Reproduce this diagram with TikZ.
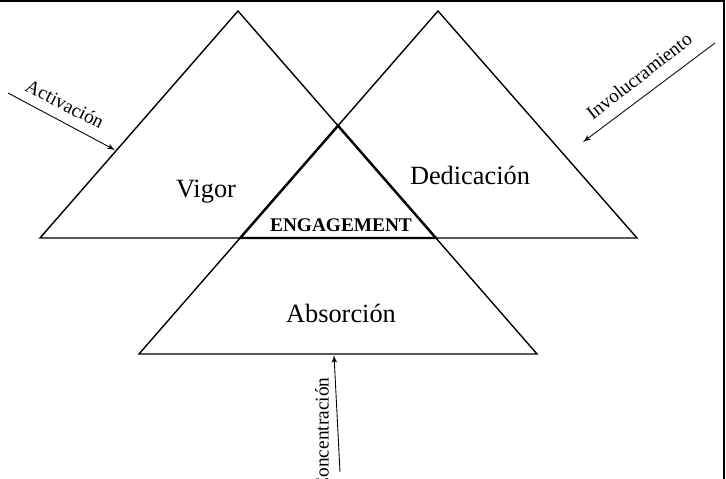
\documentclass[tikz,border=0pt]{standalone}
\usepackage{fontspec}
\setmainfont{Liberation Serif}
\usetikzlibrary{arrows}

\begin{document}
\begin{tikzpicture}[x=0.02cm,y=-0.02cm,>=latex',
    side/.style={line width=0.8pt},
    core/.style={line width=1.4pt},
    cue/.style={->,line width=0.5pt},
    dim/.style={font=\fontsize{15}{18}\selectfont,anchor=base},
    cuelabel/.style={font=\fontsize{11}{13}\selectfont}]
    \useasboundingbox (0,0) rectangle (726,479);
    \draw[line width=1pt] (0,1) -- (724,1) -- (724,479);

    % corners of the three triangles
    \coordinate (VT) at (238,11);
    \coordinate (DT) at (438,11);
    \coordinate (VL) at (40,238);
    \coordinate (DR) at (637,238);
    \coordinate (AL) at (139,354);
    \coordinate (AR) at (537,354);
    \coordinate (EL) at (intersection of DT--AL and VL--DR);
    \coordinate (ER) at (intersection of VT--AR and VL--DR);
    \coordinate (ET) at (intersection of VT--AR and DT--AL);

    \draw[side] (VL) -- (VT) -- (AR) -- (AL) -- (DT) -- (DR) -- cycle;
    \draw[core] (ET) -- (EL) -- (ER) -- cycle;

    \node[dim] (vigor) at (206,198) {Vigor};
    \node[dim] (dedic) at (470,185) {Dedicación};
    \node[dim] (absor) at (341,322) {Absorción};
    \node[font=\fontsize{11}{13}\selectfont\bfseries,anchor=base] (engage) at (341,232) {ENGAGEMENT};

    % arrows from outside
    \coordinate (actS) at (8,93);
    \coordinate (actE) at (115,150);
    \draw[cue] (actS) -- (actE);
    \node[cuelabel,rotate=-27] (act) at (65,104) {Activación};

    \coordinate (invS) at (715,43);
    \coordinate (invE) at (583,142);
    \draw[cue] (invS) -- (invE);
    \node[cuelabel,rotate=38] (inv) at (639,76) {Involucramiento};

    \coordinate (conS) at (340,472);
    \coordinate (conE) at (334,355);
    \draw[cue] (conS) -- (conE);
    \node[cuelabel,rotate=90] (con) at (322,434) {Concentración};
\end{tikzpicture}
\end{document}
